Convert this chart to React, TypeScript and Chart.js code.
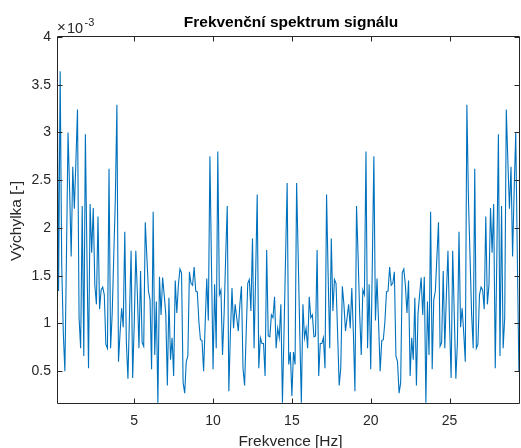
import React, { useEffect, useRef } from 'react';
import { Chart, registerables } from 'chart.js';

Chart.register(...registerables);

// Frequency axis sampling (Hz)
const FREQ_START = 0.1;
const FREQ_STEP = 0.1;

// Amplitude values in units of 1e-3, bins 0.1 Hz .. 15.0 Hz
const lowerHalf = [
  4.0, 1.34, 3.64, 1.6, 0.9, 0.5, 1.7, 3.0, 2.4, 1.7,
  2.64, 2.2, 2.7, 3.24, 1.06, 0.74, 2.23, 0.66, 2.98, 1.7,
  0.53, 2.25, 1.74, 2.21, 1.4, 1.2, 2.12, 1.15, 1.35, 1.38,
  1.3, 0.78, 0.74, 2.62, 0.74, 1.1, 1.7, 2.3, 3.29, 0.6,
  0.9, 1.16, 0.96, 1.96, 0.8, 0.42, 1.1, 1.76, 0.43, 1.0,
  1.76, 1.3, 0.74, 1.55, 0.8, 0.76, 2.06, 1.7, 1.34, 1.25,
  0.52, 2.17, 0.67, 1.23, 0.17, 1.49, 1.09, 1.48, 1.3, 1.1,
  0.35, 1.27, 0.62, 0.85, 0.45, 1.45, 1.11, 1.4, 1.57, 1.53,
  0.38, 0.27, 0.6, 0.66, 1.54, 1.42, 1.4, 1.59, 1.34, 1.33,
  1.02, 0.83, 0.82, 0.5, 1.0, 1.47, 1.03, 2.75, 1.6, 0.52,
  1.41, 0.74, 2.8, 1.3, 1.35, 0.67, 1.1, 1.7, 2.23, 0.29,
  0.9, 1.37, 0.95, 1.2, 1.06, 0.92, 1.2, 1.39, 0.53, 0.35,
  0.9, 1.42, 1.46, 1.13, 1.89, 0.74, 1.5, 2.35, 0.53, 0.85,
  0.79, 0.79, 0.45, 1.77, 0.87, 0.86, 1.09, 1.06, 1.28, 0.74,
  0.95, 0.85, 1.2, 0.17, 0.9, 1.7, 2.47, 0.57, 0.7, 0.24,
];

// Amplitude values in units of 1e-3, bins 15.1 Hz .. 29.9 Hz
const upperHalf = [
  0.7, 0.57, 2.47, 1.7, 0.9, 0.17, 1.2, 0.85, 0.95, 0.74,
  1.28, 1.06, 1.09, 0.86, 0.87, 1.77, 0.45, 0.79, 0.79, 0.85,
  0.53, 2.35, 1.5, 0.74, 1.89, 1.13, 1.46, 1.42, 0.9, 0.35,
  0.53, 1.39, 1.2, 0.92, 1.06, 1.2, 0.95, 1.37, 0.9, 0.29,
  2.23, 1.7, 1.1, 0.67, 1.35, 1.3, 2.8, 0.74, 1.41, 0.52,
  1.6, 2.75, 1.03, 1.47, 1.0, 0.5, 0.82, 0.83, 1.02, 1.33,
  1.34, 1.59, 1.4, 1.42, 1.54, 0.66, 0.6, 0.27, 0.38, 1.53,
  1.57, 1.4, 1.11, 1.45, 0.45, 0.85, 0.62, 1.27, 0.35, 1.1,
  1.3, 1.48, 1.09, 1.49, 0.17, 1.23, 0.67, 2.17, 0.52, 1.25,
  1.34, 1.7, 2.06, 0.76, 0.8, 1.55, 0.74, 1.3, 1.76, 1.0,
  0.43, 1.76, 1.1, 0.42, 0.8, 1.96, 0.96, 1.16, 0.9, 0.6,
  3.29, 2.3, 1.7, 1.1, 0.74, 2.62, 0.74, 0.78, 1.3, 1.38,
  1.35, 1.15, 2.12, 1.2, 1.4, 2.21, 1.74, 2.25, 0.53, 1.7,
  2.98, 0.66, 2.23, 0.74, 1.06, 3.24, 2.7, 2.2, 2.64, 1.7,
  2.4, 3.0, 1.7, 0.5, 0.9, 1.6, 3.64, 1.34, 4.0,
];

const xTicks = [5, 10, 15, 20, 25];
const yTicks = [0.5, 1, 1.5, 2, 2.5, 3, 3.5, 4];

const X_MIN = 0.1;
const X_MAX = 29.47;
const Y_MIN = 0.167;
const Y_MAX = 4.01;

const TITLE = 'Frekvenční spektrum signálu';
const X_LABEL = 'Frekvence [Hz]';
const Y_LABEL = 'Výchylka [-]';

const FONT = "'Liberation Sans', Arial, Helvetica, sans-serif";
const AXIS_COLOR = '#262626';
const LINE_COLOR = '#0072BD';

const framePlugin = {
  id: 'matlabFrame',
  afterDraw(chart: any) {
    const { ctx, chartArea, scales } = chart;
    const { left, right, top, bottom } = chartArea;
    const xs = scales.x;
    const ys = scales.y;
    const L = Math.round(left) + 0.5;
    const R = Math.round(right) - 0.5;
    const T = Math.round(top) + 0.5;
    const B = Math.round(bottom) + 0.5;
    const tl = 5;
    ctx.save();
    ctx.strokeStyle = AXIS_COLOR;
    ctx.lineWidth = 1;
    ctx.beginPath();
    ctx.moveTo(L, T);
    ctx.lineTo(R, T);
    ctx.lineTo(R, B);
    ctx.lineTo(L, B);
    ctx.closePath();
    for (const t of xTicks) {
      const px = Math.round(xs.getPixelForValue(t)) + 0.5;
      ctx.moveTo(px, B);
      ctx.lineTo(px, B - tl);
      ctx.moveTo(px, T);
      ctx.lineTo(px, T + tl);
    }
    for (const t of yTicks) {
      const py = Math.round(ys.getPixelForValue(t)) + 0.5;
      ctx.moveTo(L, py);
      ctx.lineTo(L + tl, py);
      ctx.moveTo(R, py);
      ctx.lineTo(R - tl, py);
    }
    ctx.stroke();

    // Title
    ctx.fillStyle = '#000000';
    ctx.font = `bold 15.5px ${FONT}`;
    ctx.textAlign = 'center';
    ctx.textBaseline = 'alphabetic';
    ctx.fillText(TITLE, 291, 27);

    // Exponent label
    ctx.fillStyle = AXIS_COLOR;
    ctx.textAlign = 'left';
    ctx.font = `15px ${FONT}`;
    ctx.fillText('×', 57, 32);
    ctx.font = `14.5px ${FONT}`;
    ctx.fillText('10', 67, 32.5);
    ctx.font = `11px ${FONT}`;
    ctx.fillText('-3', 84.5, 25.5);

    // X axis label
    ctx.font = `15.5px ${FONT}`;
    ctx.textAlign = 'center';
    ctx.fillText(X_LABEL, 290.5, 446);

    // Y axis label
    ctx.translate(21, 221);
    ctx.rotate(-Math.PI / 2);
    ctx.textAlign = 'center';
    ctx.fillText(Y_LABEL, 0, 0);
    ctx.restore();
  },
};

export default function App() {
  const canvasRef = useRef<HTMLCanvasElement | null>(null);

  useEffect(() => {
    const canvas = canvasRef.current;
    if (!canvas) return;
    const amplitude = [...lowerHalf, ...upperHalf];
    const points = amplitude.map((v, i) => ({ x: FREQ_START + i * FREQ_STEP, y: v }));

    const chart = new Chart(canvas, {
      type: 'line',
      data: {
        datasets: [
          {
            data: points,
            borderColor: LINE_COLOR,
            backgroundColor: LINE_COLOR,
            borderWidth: 1.1,
            pointRadius: 0,
            tension: 0,
            fill: false,
          },
        ],
      },
      options: {
        animation: false,
        responsive: false,
        devicePixelRatio: 1,
        layout: { padding: { top: 36, right: 1, left: 0, bottom: 0 } },
        plugins: {
          legend: { display: false },
          title: { display: false },
          tooltip: { enabled: false },
        },
        scales: {
          x: {
            type: 'linear',
            min: X_MIN,
            max: X_MAX,
            afterBuildTicks: (s: any) => {
              s.ticks = xTicks.map((v) => ({ value: v }));
            },
            afterFit: (s: any) => {
              s.height = 45;
            },
            grid: { display: false, drawTicks: false },
            border: { display: false },
            ticks: {
              padding: 10,
              color: AXIS_COLOR,
              font: { family: FONT, size: 14 },
              maxRotation: 0,
              callback: (v: any) => String(v),
            },
          },
          y: {
            type: 'linear',
            min: Y_MIN,
            max: Y_MAX,
            afterBuildTicks: (s: any) => {
              s.ticks = yTicks.map((v) => ({ value: v }));
            },
            afterFit: (s: any) => {
              s.width = 57;
            },
            grid: { display: false, drawTicks: false },
            border: { display: false },
            ticks: {
              padding: 6,
              color: AXIS_COLOR,
              font: { family: FONT, size: 14 },
              callback: (v: any) => String(v),
            },
          },
        },
      },
      plugins: [framePlugin],
    });
    return () => chart.destroy();
  }, []);

  return (
    <div style={{ position: 'absolute', left: 0, top: 0, width: 521, height: 448, background: '#ffffff' }}>
      <canvas ref={canvasRef} width={521} height={448} style={{ display: 'block' }} />
    </div>
  );
}
